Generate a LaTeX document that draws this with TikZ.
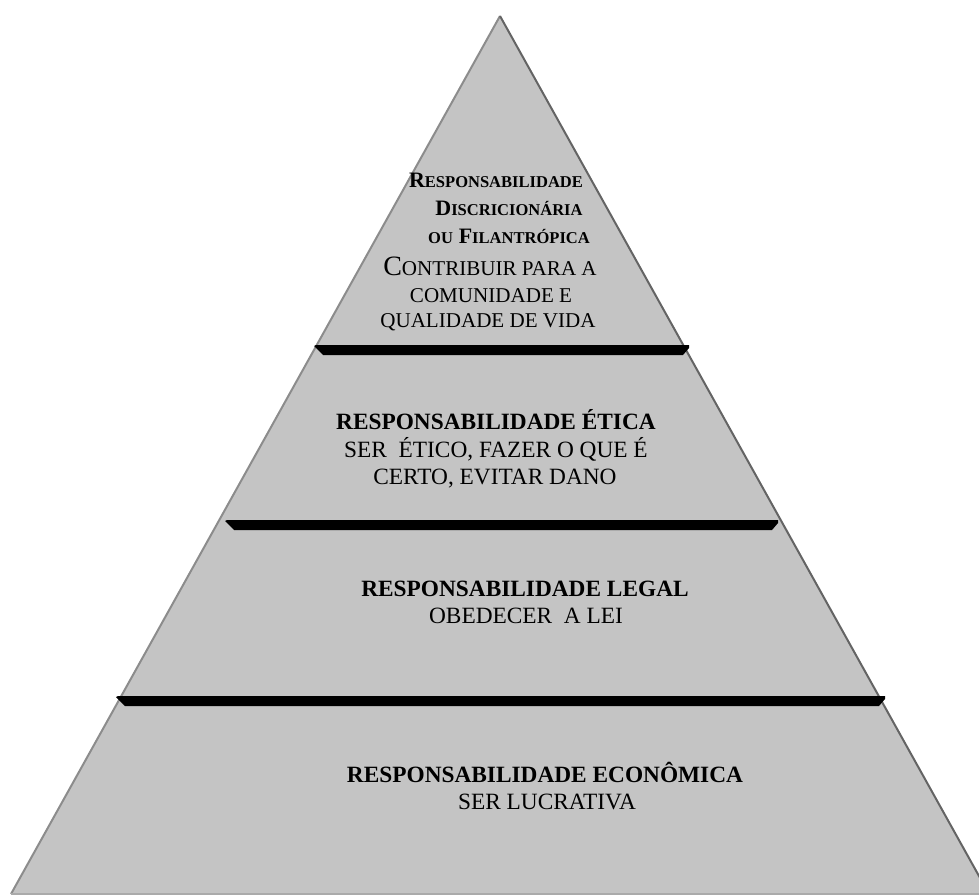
\documentclass[tikz,border=0pt]{standalone}
\usepackage{fontspec}
\setmainfont{Liberation Serif}
\usepackage{tikz}

\definecolor{pyrgray}{RGB}{196,196,196}
\definecolor{edgeleft}{RGB}{140,140,140}
\definecolor{edgeright}{RGB}{100,100,100}
\definecolor{edgebase}{RGB}{170,170,170}

% fake small caps: big initial, smaller capitals after it
\newcommand{\bsc}[2]{{\fontsize{16.5}{18}\selectfont #1}{\fontsize{12.4}{14}\selectfont #2}}
\newcommand{\nsc}[2]{{\fontsize{21}{24}\selectfont #1}{\fontsize{15.8}{18}\selectfont #2}}

\tikzset{
  txt/.style={anchor=base, inner sep=0pt, font=\fontsize{17.5}{20}\selectfont},
  btxt/.style={txt, font=\fontsize{17.5}{20}\selectfont\bfseries},
  layerbar/.style={fill=black, draw=none}
}

\begin{document}
\begin{tikzpicture}[x=0.75pt,y=-0.75pt]
        \useasboundingbox (0,0) rectangle (979,895);
        \clip (0,0) rectangle (979,895);
        % pyramid
        \fill[pyrgray] (500,16)--(11,894)--(989,894)--cycle;
        \draw[edgeleft, line width=1.5pt] (500,16)--(11,894);
        \draw[edgeright, line width=1.5pt] (500,16)--(989,894);
        \draw[edgebase, line width=1pt] (11,894)--(989,894);
        % separating bars
        \foreach \l/\r/\t in {314/689/345, 225/778/520, 116/885/696}
            \fill[layerbar] (\l,{\t+1})--(\l+2,\t)--(\r,\t)--(\r,{\t+3})--({\r-6},{\t+10})--({\l+9},{\t+10})--cycle;
        % top layer
        \draw (496,188) node[btxt] (disc1) {\bsc{R}{ESPONSABILIDADE}};
        \draw (509,216) node[btxt] (disc2) {\bsc{D}{ISCRICIONÁRIA}};
        \draw (509,244) node[btxt] (disc3) {\bsc{}{OU} \bsc{F}{ILANTRÓPICA}};
        \draw (490,276) node[txt] (disc4) {\nsc{C}{ONTRIBUIR PARA A}};
        \draw (491,302) node[txt] (disc5) {\nsc{}{COMUNIDADE E}};
        \draw (488,328) node[txt] (disc6) {\nsc{}{QUALIDADE DE VIDA}};
        % ethical
        \draw (496,429) node[btxt] (etica1) {RESPONSABILIDADE ÉTICA};
        \draw (496,457) node[txt] (etica2) {SER\ \ ÉTICO, FAZER O QUE É};
        \draw (495,484) node[txt] (etica3) {CERTO, EVITAR DANO};
        % legal
        \draw (525,596) node[btxt] (legal1) {RESPONSABILIDADE LEGAL};
        \draw (526,623) node[txt] (legal2) {OBEDECER\ \ A LEI};
        % economic
        \draw (545,782) node[btxt] (econ1) {RESPONSABILIDADE ECONÔMICA};
        \draw (547,809) node[txt] (econ2) {SER LUCRATIVA};
    \end{tikzpicture}
\end{document}
